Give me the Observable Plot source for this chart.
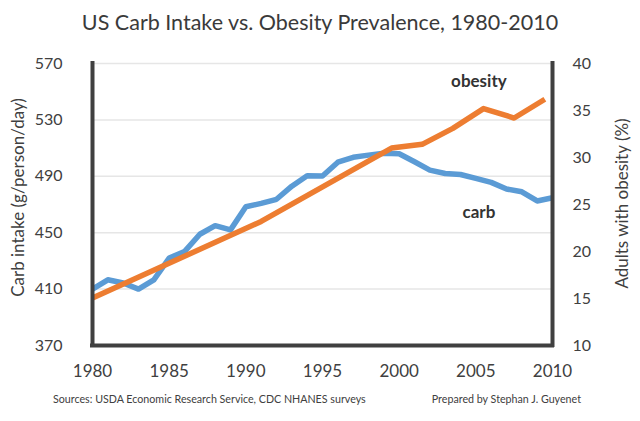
<!DOCTYPE html>
<html>
<head>
<meta charset="utf-8">
<script src="https://cdn.jsdelivr.net/npm/d3@7"></script>
<script src="https://cdn.jsdelivr.net/npm/@observablehq/plot@0.6"></script>
<style>
  body { margin: 0; background: #fff; width: 640px; height: 421px; overflow: hidden; font-family: Lato, "Open Sans", sans-serif; color: #404040; }
  #title { height: 45px; line-height: 44px; text-align: center; font-size: 21.5px; color: #3a3a3a; }
  #chart { height: 345px; }
  #footer { position: relative; height: 31px; font-size: 10.7px; color: #404040; }
  #footer span { position: absolute; top: 2px; line-height: 14px; white-space: nowrap; }
</style>
</head>
<body>
<div id="title">US Carb Intake vs. Obesity Prevalence, 1980-2010</div>
<div id="chart"></div>
<div id="footer"><span id="src" style="left:53px">Sources: USDA Economic Research Service, CDC NHANES surveys</span><span id="prep" style="right:59px">Prepared by Stephan J. Guyenet</span></div>
<script>
// ---- data ----
const carbYears = [1980,1981,1982,1983,1984,1985,1986,1987,1988,1989,1990,1991,1992,1993,1994,1995,1996,1997,1998,1999,2000,2001,2002,2003,2004,2005,2006,2007,2008,2009,2010];
const carbValues = [410,416.6,414.3,410,416.6,432,436.6,448.9,455,452,468.4,470.8,473.7,483,490.4,490.2,500,503.5,505,506.3,506,500.3,494.4,492,491.3,488.5,485.7,481,479,472.5,474.8];
const obesityYears = [1980,1991,1999.5,2001.5,2003.5,2005.5,2007.5,2009.5];
const obesityValues = [15.05,23.2,31.0,31.4,33.1,35.2,34.2,36.2];
const xTicks = [1980,1985,1990,1995,2000,2005,2010];
const leftTicks = [370,410,450,490,530,570];
const rightTicks = [10,15,20,25,30,35,40];
const seriesLabels = ["obesity","carb"];
const labelYears = [2005.2,2005.2];
const labelCarbScale = [557.5,464];

// map obesity % onto the carb scale (370..570 <-> 10..40)
const toCarb = v => 370 + (v - 10) * 200 / 30;
const toOb = c => 10 + (c - 370) * 30 / 200;

const carb = carbYears.map((y,i) => ({year:y, value:carbValues[i]}));
const obesity = obesityYears.map((y,i) => ({year:y, value:toCarb(obesityValues[i])}));
const labels = seriesLabels.map((t,i) => ({text:t, year:labelYears[i], value:labelCarbScale[i]}));

const blue = "#5B9BD5", orange = "#ED7D31", axisCol = "#404040", textCol = "#404040";

const chart = Plot.plot({
  width: 640,
  height: 345,
  marginTop: 18,
  marginBottom: 45,
  marginLeft: 92,
  marginRight: 88,
  style: {fontFamily: "Lato, 'Open Sans', sans-serif", fontSize: "16px", color: textCol, background: "#fff"},
  x: {domain: [1980, 2010]},
  y: {domain: [370, 570]},
  marks: [
    Plot.ruleY(leftTicks.filter(t => t !== 370), {stroke: "#e6e6e6", strokeWidth: 1.5}),
    Plot.axisX({ticks: xTicks, tickSize: 0, tickPadding: 19, tickFormat: d => String(d), fontSize: 17, label: null}),
    Plot.axisY({ticks: leftTicks, anchor: "left", tickSize: 0, tickPadding: 30, fontSize: 16, label: null}),
    Plot.axisY({ticks: rightTicks.map(toCarb), anchor: "right", tickSize: 0, tickPadding: 20, fontSize: 16, label: null, tickFormat: d => String(Math.round(toOb(d)))}),
    Plot.text(["Carb intake (g/person/day)"], {frameAnchor: "left", textAnchor: "middle", rotate: -90, dx: -74, dy: -7, fontSize: 17, fill: textCol}),
    Plot.text(["Adults with obesity (%)"], {frameAnchor: "right", textAnchor: "middle", rotate: -90, dx: 70, dy: -1, fontSize: 17, fill: textCol}),
    Plot.lineY(carb, {x: "year", y: "value", stroke: blue, strokeWidth: 5.5, strokeLinejoin: "round", strokeLinecap: "butt"}),
    Plot.lineY(obesity, {x: "year", y: "value", stroke: orange, strokeWidth: 5.5, strokeLinejoin: "round", strokeLinecap: "butt"}),
    Plot.text(labels, {x: "year", y: "value", text: "text", fontSize: 17, fontWeight: "bold", fill: "#333"}),
    Plot.ruleX([1980], {stroke: axisCol, strokeWidth: 4, strokeLinecap: "square"}),
    Plot.ruleX([2010], {stroke: axisCol, strokeWidth: 4, strokeLinecap: "square"}),
    Plot.ruleY([370], {stroke: axisCol, strokeWidth: 4, strokeLinecap: "square"})
  ]
});
document.getElementById("chart").appendChild(chart);
</script>
</body>
</html>
